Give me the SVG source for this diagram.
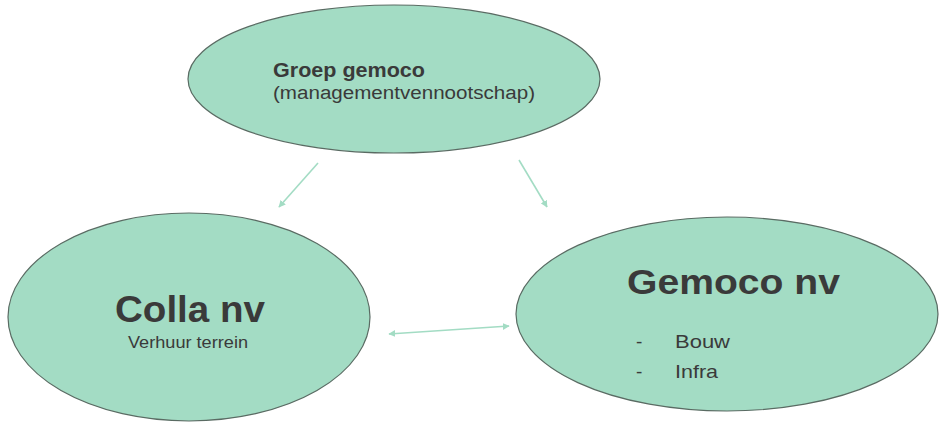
<svg xmlns="http://www.w3.org/2000/svg" width="940" height="423" viewBox="0 0 940 423">
<style>
.node{fill:#a3dcc4;stroke:#5a6b63;stroke-width:1.2}
.t{font-family:"Liberation Sans",Arial,sans-serif;fill:#3a3a3a}
.b{font-weight:bold}
.c{stroke:#a3dcc4;stroke-width:1.6;fill:none}
</style>
<defs>
<marker id="ah" viewBox="0 0 10 10" refX="9" refY="5" markerWidth="7" markerHeight="7" orient="auto-start-reverse" markerUnits="userSpaceOnUse">
<path d="M0,0 L10,5 L0,10 z" fill="#a3dcc4"/>
</marker>
</defs>
<rect width="940" height="423" fill="#ffffff"/>
<g id="connectors">
<line class="c" x1="318" y1="163" x2="279" y2="207" marker-end="url(#ah)"/>
<line class="c" x1="519" y1="160" x2="547" y2="207" marker-end="url(#ah)"/>
<line class="c" x1="389" y1="334" x2="509" y2="326" marker-start="url(#ah)" marker-end="url(#ah)"/>
</g>
<g id="groep">
<ellipse class="node" cx="394" cy="79" rx="206" ry="74"/>
<text class="t b" x="273" y="77" font-size="20" textLength="152" lengthAdjust="spacingAndGlyphs">Groep gemoco</text>
<text class="t" x="273" y="99" font-size="18" textLength="262" lengthAdjust="spacingAndGlyphs">(managementvennootschap)</text>
</g>
<g id="colla">
<ellipse class="node" cx="189" cy="317" rx="181" ry="104"/>
<text class="t b" x="115" y="322" font-size="37" textLength="150" lengthAdjust="spacingAndGlyphs">Colla nv</text>
<text class="t" x="128" y="348" font-size="17" textLength="120" lengthAdjust="spacingAndGlyphs">Verhuur terrein</text>
</g>
<g id="gemoco">
<ellipse class="node" cx="727" cy="314" rx="211" ry="97"/>
<text class="t b" x="627" y="294" font-size="35" textLength="213" lengthAdjust="spacingAndGlyphs">Gemoco nv</text>
<text class="t" x="636" y="348" font-size="19">-</text>
<text class="t" x="675" y="348" font-size="19" textLength="55" lengthAdjust="spacingAndGlyphs">Bouw</text>
<text class="t" x="636" y="378" font-size="19">-</text>
<text class="t" x="675" y="378" font-size="19" textLength="43" lengthAdjust="spacingAndGlyphs">Infra</text>
</g>
</svg>
